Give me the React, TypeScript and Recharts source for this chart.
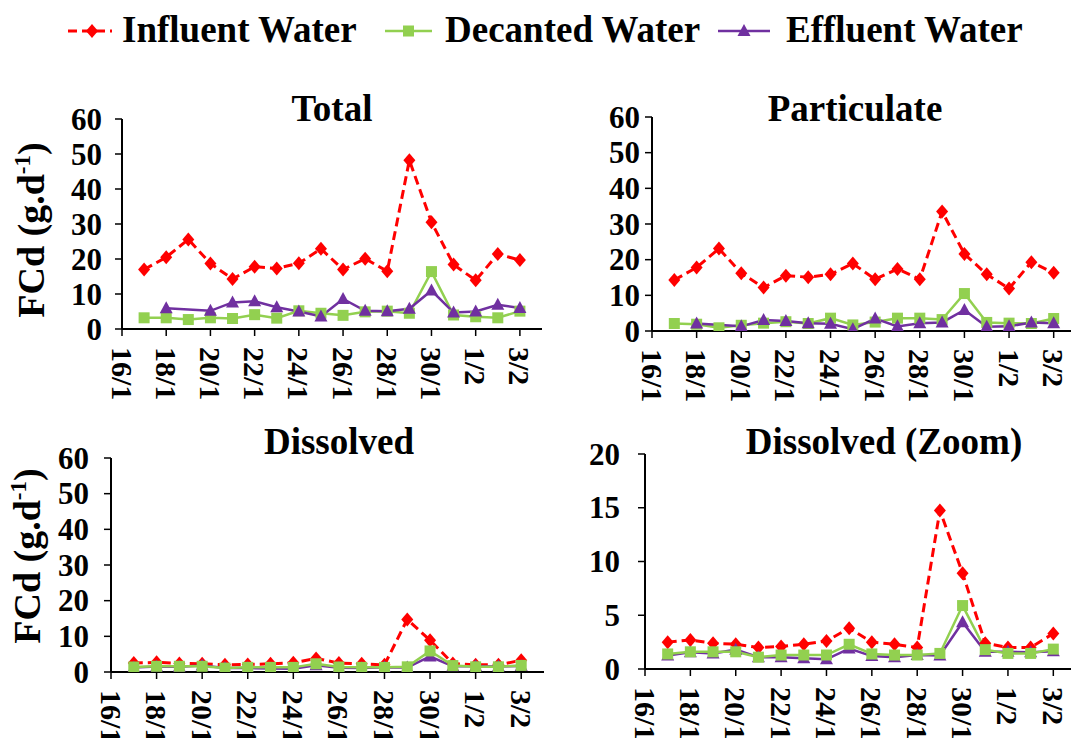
import React from 'react';
import { LineChart, Line, XAxis, YAxis } from 'recharts';

// ---- data ----
const dates = ['17/1','18/1','19/1','20/1','21/1','22/1','23/1','24/1','25/1','26/1','27/1','28/1','29/1','30/1','31/1','1/2','2/2','3/2'];
const dayNumber = [1,2,3,4,5,6,7,8,9,10,11,12,13,14,15,16,17,18];
const xTickPositions = [0,2,4,6,8,10,12,14,16,18];
const xTickLabels = ['16/1','18/1','20/1','22/1','24/1','26/1','28/1','30/1','1/2','3/2'];
const yTicks60 = [0,10,20,30,40,50,60];
const yTicks20 = [0,5,10,15,20];

const totalInfluent = [17.0,20.5,25.6,18.7,14.3,17.8,17.3,18.8,22.9,17.0,20.1,16.5,48.2,30.5,18.4,13.9,21.4,19.7];
const totalDecanted = [3.2,3.2,2.7,3.2,3.0,4.1,3.1,5.2,4.5,3.9,4.9,5.1,4.5,16.4,4.0,3.5,3.2,5.1];
const totalEffluent = [null,5.9,null,5.2,7.6,7.9,6.2,5.0,3.6,8.6,5.2,5.1,5.8,11.0,4.7,5.0,6.9,6.0];

const partInfluent = [14.3,17.8,23.1,16.2,12.2,15.5,15.1,15.9,18.9,14.5,17.4,14.5,33.5,21.6,15.9,11.9,19.3,16.3];
const partDecanted = [2.1,1.9,0.9,1.6,2.2,2.6,2.1,3.6,1.7,2.5,3.6,3.6,3.2,10.5,2.4,2.2,2.1,3.5];
const partEffluent = [null,2.1,null,1.3,3.1,2.8,2.2,2.0,0.5,3.5,1.3,2.2,2.4,5.9,1.2,1.3,2.4,2.2];

const dissInfluent = [2.5,2.7,2.4,2.3,2.0,2.1,2.3,2.6,3.8,2.5,2.3,2.0,14.75,8.9,2.4,2.0,2.0,3.3];
const dissDecanted = [1.4,1.6,1.6,1.6,1.1,1.3,1.3,1.3,2.3,1.4,1.3,1.3,1.45,5.9,1.8,1.45,1.45,1.85];
const dissEffluent = [1.25,1.55,1.45,1.8,1.1,1.1,1.0,0.9,1.9,1.2,1.1,1.3,1.25,4.35,1.6,1.6,1.55,1.65];

const RED = '#FF0000';
const GREEN = '#92D050';
const PURPLE = '#7030A0';
const FONT = "'Liberation Serif', 'Times New Roman', serif";

const buildRows = (inf: any[], dec: any[], eff: any[]) =>
  dayNumber.map((d, i) => ({ day: d, date: dates[i], influent: inf[i], decanted: dec[i], effluent: eff[i] }));

const valid = (cx: any, cy: any) => typeof cx === 'number' && typeof cy === 'number' && !isNaN(cx) && !isNaN(cy);

const DiamondDot = (p: any) => {
  const { cx, cy, index } = p;
  if (!valid(cx, cy)) return <g key={'d' + index} />;
  return <path key={'d' + index} d={`M${cx} ${cy - 7} L${cx + 6} ${cy} L${cx} ${cy + 7} L${cx - 6} ${cy} Z`} fill={RED} />;
};
const SquareDot = (p: any) => {
  const { cx, cy, index } = p;
  if (!valid(cx, cy)) return <g key={'s' + index} />;
  return <rect key={'s' + index} x={cx - 5.5} y={cy - 5.5} width={11} height={11} fill={GREEN} />;
};
const TriangleDot = (p: any) => {
  const { cx, cy, index } = p;
  if (!valid(cx, cy)) return <g key={'t' + index} />;
  return <path key={'t' + index} d={`M${cx} ${cy - 7} L${cx + 6.5} ${cy + 5} L${cx - 6.5} ${cy + 5} Z`} fill={PURPLE} />;
};

const YTick = (p: any) => {
  const { x, y, payload } = p;
  return (
    <text x={x} y={y} textAnchor="end" dominantBaseline="central" fontFamily={FONT} fontWeight="bold" fontSize={31} fill="#000">
      {payload.value}
    </text>
  );
};

const XTick = (p: any) => {
  const { x, y, payload } = p;
  const idx = xTickPositions.indexOf(payload.value);
  const label = idx >= 0 ? xTickLabels[idx] : '';
  return (
    <text transform={`translate(${x},${y}) rotate(90)`} textAnchor="start" dominantBaseline="central" fontFamily={FONT} fontWeight="bold" fontSize={30} fill="#000">
      {label}
    </text>
  );
};

type PanelProps = {
  plotLeft: number; plotTop: number; plotWidth: number; plotHeight: number;
  rows: any[]; yMax: number; yTicks: number[]; yGap: number; dissolvedOrder?: boolean;
};

const Panel = ({ plotLeft, plotTop, plotWidth, plotHeight, rows, yMax, yTicks, yGap, dissolvedOrder }: PanelProps) => {
  const yw = 80;
  const mt = 25;
  const xh = 80;
  const W = plotWidth + yw + 5;
  const H = plotHeight + mt + xh;
  const influent = (
    <Line key="inf" type="linear" dataKey="influent" stroke={RED} strokeWidth={3} strokeDasharray="9 5" dot={DiamondDot} activeDot={false} isAnimationActive={false} connectNulls />
  );
  const decanted = (
    <Line key="dec" type="linear" dataKey="decanted" stroke={GREEN} strokeWidth={2.5} dot={SquareDot} activeDot={false} isAnimationActive={false} connectNulls />
  );
  const effluent = (
    <Line key="eff" type="linear" dataKey="effluent" stroke={PURPLE} strokeWidth={2.5} dot={TriangleDot} activeDot={false} isAnimationActive={false} connectNulls />
  );
  const series = dissolvedOrder ? [influent, effluent, decanted] : [influent, decanted, effluent];
  return (
    <div style={{ position: 'absolute', left: plotLeft - yw, top: plotTop - mt, width: W, height: H }}>
      <LineChart width={W} height={H} data={rows} margin={{ top: mt, right: 5, left: 0, bottom: 0 }}>
        <XAxis
          dataKey="day"
          type="number"
          domain={[0, 19]}
          ticks={xTickPositions}
          interval={0}
          height={xh}
          tick={<XTick />}
          tickSize={7}
          tickMargin={11}
          axisLine={{ stroke: '#000', strokeWidth: 2 }}
          tickLine={{ stroke: '#000', strokeWidth: 1.5 }}
          allowDataOverflow
        />
        <YAxis
          type="number"
          domain={[0, yMax]}
          ticks={yTicks}
          interval={0}
          width={yw}
          tick={<YTick />}
          tickSize={7}
          tickMargin={yGap - 7}
          axisLine={{ stroke: '#000', strokeWidth: 2 }}
          tickLine={{ stroke: '#000', strokeWidth: 1.5 }}
          allowDataOverflow
        />
        {series}
      </LineChart>
    </div>
  );
};

const YTitle = ({ x, y }: { x: number; y: number }) => (
  <text transform={`translate(${x},${y}) rotate(-90)`} textAnchor="middle" fontFamily={FONT} fontWeight="bold" fontSize={38} fill="#000">
    FCd (g.d<tspan dy={-14} fontSize={23}>-1</tspan><tspan dy={14}>)</tspan>
  </text>
);

const Title = ({ x, y, text }: { x: number; y: number; text: string }) => (
  <text x={x} y={y} textAnchor="middle" fontFamily={FONT} fontWeight="bold" fontSize={37} fill="#000">{text}</text>
);

export default function App() {
  const totalRows = buildRows(totalInfluent, totalDecanted, totalEffluent);
  const partRows = buildRows(partInfluent, partDecanted, partEffluent);
  const dissRows = buildRows(dissInfluent, dissDecanted, dissEffluent);
  const ly = 31;
  return (
    <div style={{ position: 'fixed', left: 0, top: 0, width: 1071, height: 738, overflow: 'hidden', background: '#fff' }}>
      <Panel plotLeft={122} plotTop={119} plotWidth={420} plotHeight={210} rows={totalRows} yMax={60} yTicks={yTicks60} yGap={20} />
      <Panel plotLeft={652} plotTop={117} plotWidth={424} plotHeight={214} rows={partRows} yMax={60} yTicks={yTicks60} yGap={12} />
      <Panel plotLeft={111} plotTop={458} plotWidth={433} plotHeight={214} rows={dissRows} yMax={60} yTicks={yTicks60} yGap={22} dissolvedOrder />
      <Panel plotLeft={645} plotTop={454} plotWidth={431} plotHeight={215} rows={dissRows} yMax={20} yTicks={yTicks20} yGap={25} dissolvedOrder />
      <svg width={1071} height={738} style={{ position: 'absolute', left: 0, top: 0, pointerEvents: 'none' }}>
        {/* legend */}
        <line x1={68} y1={ly} x2={112} y2={ly} stroke={RED} strokeWidth={3} strokeDasharray="9 5" />
        <path d={`M92 ${ly - 7} L98 ${ly} L92 ${ly + 7} L86 ${ly} Z`} fill={RED} />
        <text x={122} y={ly + 11} fontFamily={FONT} fontWeight="bold" fontSize={37} fill="#000">Influent Water</text>
        <line x1={385} y1={ly} x2={432} y2={ly} stroke={GREEN} strokeWidth={2.5} />
        <rect x={403} y={ly - 5.5} width={11} height={11} fill={GREEN} />
        <text x={445} y={ly + 11} fontFamily={FONT} fontWeight="bold" fontSize={37} fill="#000">Decanted Water</text>
        <line x1={718} y1={ly} x2={770} y2={ly} stroke={PURPLE} strokeWidth={2.5} />
        <path d={`M744 ${ly - 7} L750.5 ${ly + 5} L737.5 ${ly + 5} Z`} fill={PURPLE} />
        <text x={786} y={ly + 11} fontFamily={FONT} fontWeight="bold" fontSize={37} fill="#000">Effluent Water</text>
        {/* titles */}
        <Title x={332} y={121} text="Total" />
        <Title x={855} y={121} text="Particulate" />
        <Title x={339} y={454} text="Dissolved" />
        <Title x={884} y={454} text="Dissolved (Zoom)" />
        {/* y titles */}
        <YTitle x={44} y={230} />
        <YTitle x={40} y={556} />
      </svg>
    </div>
  );
}
